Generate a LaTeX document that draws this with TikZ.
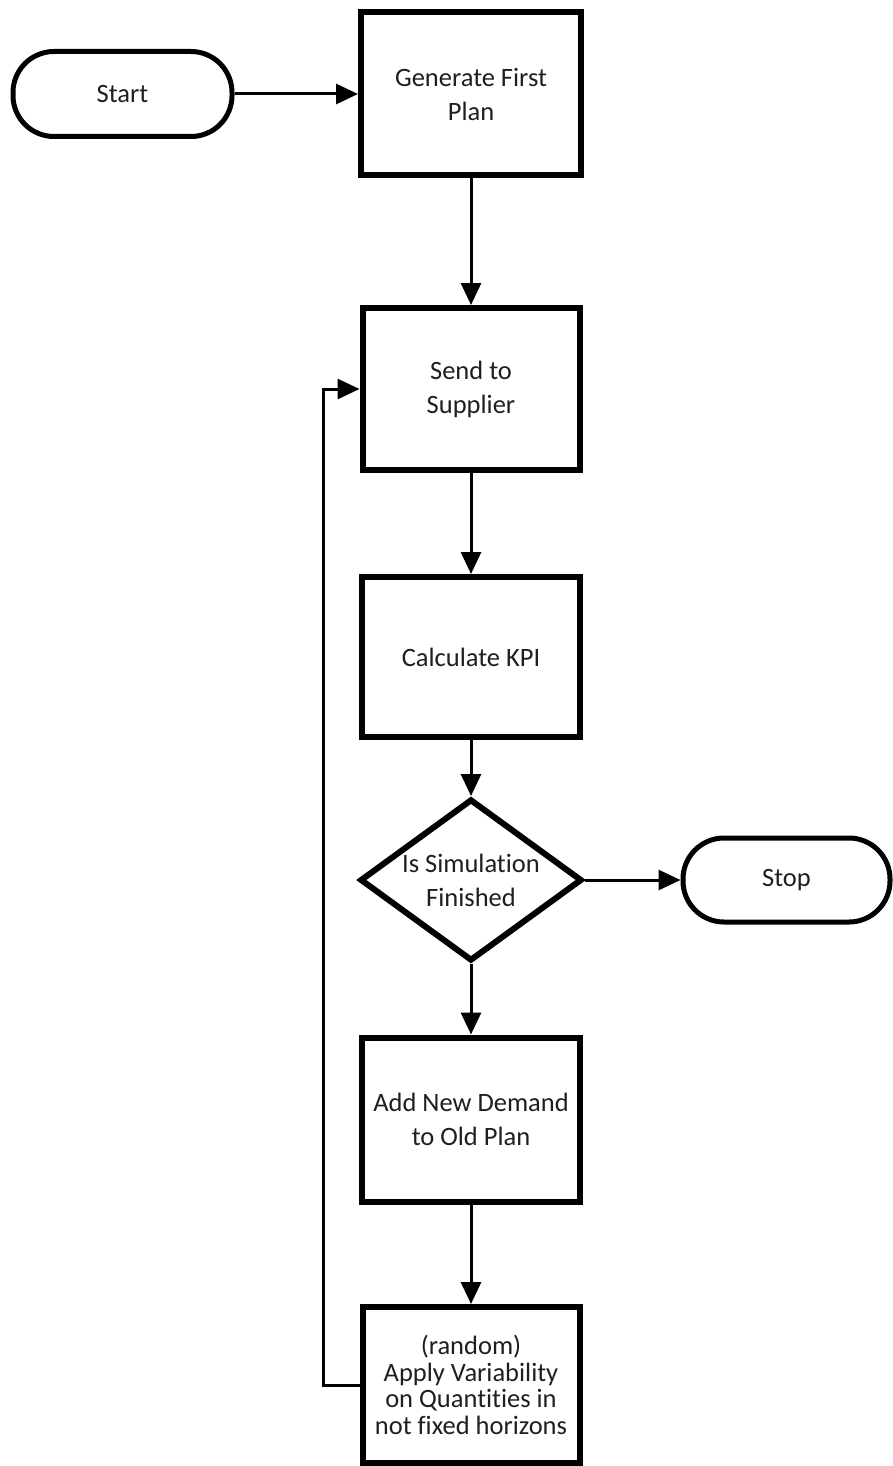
\documentclass[tikz,border=0pt]{standalone}
\usepackage{fontspec}
\setmainfont{Carlito}[Ligatures=NoCommon]
\usetikzlibrary{arrows.meta,shapes.geometric}

\tikzset{
  txt/.style={text=black!88, font=\fontsize{26.5}{34}\selectfont, align=center},
  procbox/.style={draw=black, line width=6pt, rectangle, fill=white, inner sep=0pt, txt},
  terminal/.style={draw=black, line width=5pt, rectangle, rounded corners=41pt, fill=white, inner sep=0pt, txt},
  decision/.style={draw=black, line width=6pt, diamond, fill=white, inner sep=0pt},
  flow/.style={draw=black, line width=3pt, -{Triangle[length=22pt,width=20pt]}},
}

\begin{document}
\begin{tikzpicture}[x=1pt, y=-1pt]
  \useasboundingbox[fill=white] (0,0) rectangle (892,1466);

  % start and end terminals
  \node[terminal, minimum width=219pt, minimum height=85pt] (start) at (122.5,94) {Start};
  \node[terminal, minimum width=207pt, minimum height=84pt] (stop) at (786.5,880) {Stop};

  % process steps
  \node[procbox, minimum width=220pt, minimum height=163pt] (gen) at (471,94) {Generate First\\Plan};
  \node[procbox, minimum width=217pt, minimum height=162pt] (send) at (471,389) {Send to\\Supplier};
  \node[procbox, minimum width=218pt, minimum height=160pt] (kpi) at (471,657) {Calculate KPI};
  \node[decision, minimum width=222pt, minimum height=162pt,
        label={[txt, name=declabel]center:Is Simulation\\Finished}] (dec) at (471,880) {};
  \node[procbox, minimum width=218pt, minimum height=164pt] (add) at (471,1119.5) {Add New Demand\\to Old Plan};
  \node[procbox, minimum width=217pt, minimum height=156pt,
        font=\fontsize{26.5}{26.5}\selectfont] (vary) at (471,1385)
        {(random)\\Apply Variability\\on Quantities in\\not fixed horizons};

  % main flow
  \draw[flow] (start.east) -- (gen.west);
  \draw[flow] (gen.south) -- (send.north);
  \draw[flow] (send.south) -- (kpi.north);
  \draw[flow] (kpi.south) -- (dec.north);
  \draw[flow] (dec.east) -- (stop.west);
  \draw[flow] (dec.south) -- (add.north);
  \draw[flow] (add.south) -- (vary.north);

  % feedback loop back to the supplier step
  \coordinate (loopB) at (323,1385);
  \coordinate (loopT) at (323,389);
  \draw[flow] (vary.west) -- (loopB) -- (loopT) -- (send.west);
\end{tikzpicture}
\end{document}
